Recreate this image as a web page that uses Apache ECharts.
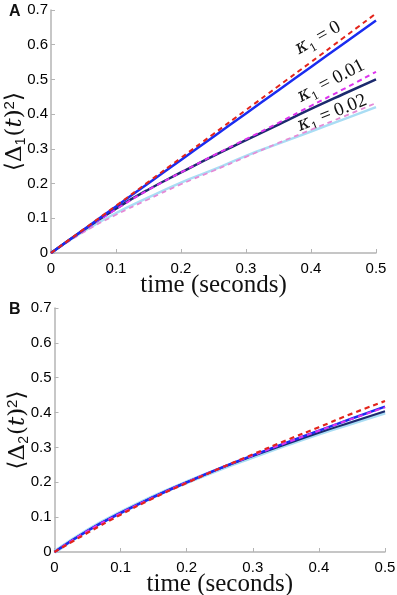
<!DOCTYPE html>
<html>
<head>
<meta charset="utf-8">
<script src="https://cdn.jsdelivr.net/npm/echarts@6/dist/echarts.min.js"></script>
<style>
  html, body { margin: 0; padding: 0; background: #fff; }
  #chart { width: 397px; height: 595px; }
</style>
</head>
<body>
<div id="chart"></div>
<script>
// time axis (seconds)
var times = [0, 0.05, 0.1, 0.15, 0.2, 0.25, 0.3, 0.35, 0.4, 0.45, 0.5];

// panel A: <Delta_1(t)^2>
var aK0Solid = [0, 0.067, 0.134, 0.201, 0.268, 0.335, 0.402, 0.469, 0.536, 0.603, 0.67];
var aK0Dash = [0, 0.068, 0.136, 0.205, 0.274, 0.343, 0.412, 0.481, 0.55, 0.62, 0.69];
var aK1Solid = [0, 0.066, 0.128, 0.183, 0.232, 0.28, 0.325, 0.37, 0.415, 0.458, 0.5];
var aK1Dash = [0, 0.065, 0.126, 0.182, 0.232, 0.281, 0.328, 0.375, 0.424, 0.472, 0.522];
var aK2Solid = [0, 0.062, 0.115, 0.16, 0.203, 0.24, 0.28, 0.315, 0.35, 0.385, 0.42];
var aK2Dash = [0, 0.06, 0.11, 0.155, 0.198, 0.237, 0.277, 0.317, 0.355, 0.393, 0.432];

// panel B: <Delta_2(t)^2>
var bLight = [0, 0.062, 0.113, 0.159, 0.2, 0.238, 0.273, 0.307, 0.34, 0.37, 0.4];
var bNavy = [0, 0.061, 0.112, 0.158, 0.2, 0.239, 0.275, 0.309, 0.342, 0.373, 0.404];
var bBlue = [0, 0.061, 0.112, 0.158, 0.2, 0.24, 0.277, 0.313, 0.348, 0.383, 0.417];
var bMagenta = [0, 0.06, 0.111, 0.157, 0.2, 0.24, 0.277, 0.313, 0.348, 0.382, 0.415];
var bRed = [0, 0.055, 0.107, 0.155, 0.198, 0.24, 0.28, 0.32, 0.358, 0.397, 0.433];

function pairs(ys) {
    return times.map(function (t, i) { return [t, ys[i]]; });
}

var axisGray = '#b4b4b4';
var tickFont = { color: '#000', fontSize: 15, fontFamily: 'Liberation Sans' };
var serif = 'DejaVu Serif';

// rich text for the y axis titles
var mathRich = {
    a: { fontSize: 23, fontFamily: serif, color: '#111', lineHeight: 26 },
    i: { fontSize: 23, fontFamily: serif, fontStyle: 'italic', color: '#111', lineHeight: 26 },
    s: { fontSize: 14, fontFamily: 'Liberation Sans', color: '#111', verticalAlign: 'bottom', lineHeight: 26, padding: [0, 1, 0, 0] },
    p: { fontSize: 15, fontFamily: 'Liberation Sans', color: '#111', verticalAlign: 'top', lineHeight: 26 }
};

function xAxisFor(gridIndex) {
    return {
        gridIndex: gridIndex,
        type: 'value',
        min: 0,
        max: 0.5,
        interval: 0.1,
        name: 'time (seconds)',
        nameLocation: 'middle',
        nameGap: 20,
        nameMoveOverlap: false,
        nameTextStyle: { color: '#111', fontSize: 25, fontFamily: 'Liberation Serif' },
        axisLine: { show: true, lineStyle: { color: axisGray, width: 1.5 } },
        axisTick: { show: true, inside: true, length: 4, lineStyle: { color: axisGray } },
        axisLabel: Object.assign({ margin: 8, formatter: function (v) { return String(+v.toFixed(1)); } }, tickFont),
        splitLine: { show: false }
    };
}

function yAxisFor(gridIndex, sub) {
    return {
        gridIndex: gridIndex,
        type: 'value',
        min: 0,
        max: 0.7,
        interval: 0.1,
        name: '{a|\u27e8\u0394}{s|' + sub + '}{a|(}{i|t}{a|)}{p|2}{a|\u27e9}',
        nameLocation: 'middle',
        nameRotate: 90,
        nameGap: 23,
        nameMoveOverlap: false,
        nameTextStyle: { rich: mathRich },
        axisLine: { show: true, lineStyle: { color: axisGray, width: 1.5 } },
        axisTick: { show: true, inside: true, length: 4, lineStyle: { color: axisGray } },
        axisLabel: Object.assign({ margin: 3, formatter: function (v) { return String(+v.toFixed(1)); } }, tickFont),
        splitLine: { show: false }
    };
}

function line(idx, ys, color, width, dashed) {
    return {
        type: 'line',
        xAxisIndex: idx,
        yAxisIndex: idx,
        data: pairs(ys),
        showSymbol: false,
        smooth: true,
        silent: true,
        lineStyle: { color: color, width: width, type: dashed ? [5, 4] : 'solid' },
        itemStyle: { color: color }
    };
}

function kappa(x, y, rot, val) {
    return {
        type: 'text', x: x, y: y, rotation: rot,
        style: {
            text: '{k|\u03ba}{s|1}{a| = ' + val + '}',
            align: 'center', verticalAlign: 'middle',
            rich: {
                k: { fontSize: 19, fontFamily: serif, fontStyle: 'italic', fill: '#111', lineHeight: 24 },
                s: { fontSize: 11, fontFamily: serif, fill: '#111', verticalAlign: 'bottom', lineHeight: 24 },
                a: { fontSize: 19, fontFamily: 'Liberation Serif', fill: '#111', lineHeight: 24 }
            }
        }
    };
}

var chart = echarts.init(document.getElementById('chart'));
var option = {
    backgroundColor: '#fff',
    animation: false,
    grid: [
        { left: 51, top: 10, width: 325, height: 243, outerBoundsMode: 'none', containLabel: false },
        { left: 54.5, top: 308, width: 330.5, height: 244, outerBoundsMode: 'none', containLabel: false }
    ],
    xAxis: [xAxisFor(0), xAxisFor(1)],
    yAxis: [yAxisFor(0, '1'), yAxisFor(1, '2')],
    series: [
        // A
        line(0, aK2Solid, '#a9ddf4', 2.5, false),
        line(0, aK2Dash, '#e58bd6', 1.8, true),
        line(0, aK1Solid, '#1c2a6e', 2.5, false),
        line(0, aK1Dash, '#dd33ee', 2, true),
        line(0, aK0Solid, '#1a2cf0', 2.5, false),
        line(0, aK0Dash, '#e3241b', 2, true),
        // B
        line(1, bLight, '#a9ddf4', 4, false),
        line(1, bNavy, '#1c2a6e', 2, false),
        line(1, bBlue, '#1a2cf0', 2.5, false),
        line(1, bMagenta, '#dd33ee', 2, true),
        line(1, bRed, '#e3241b', 2.2, true)
    ],
    graphic: [
        { type: 'text', left: 9, top: 4, style: { text: 'A', font: 'bold 16px "Liberation Sans"', fill: '#111' } },
        { type: 'text', left: 9, top: 302, style: { text: 'B', font: 'bold 16px "Liberation Sans"', fill: '#111' } },
        kappa(318, 38, 0.52, '0'),
        kappa(331, 81, 0.48, '0.01'),
        kappa(332, 113, 0.38, '0.02')
    ]
};
chart.setOption(option);
</script>
</body>
</html>
